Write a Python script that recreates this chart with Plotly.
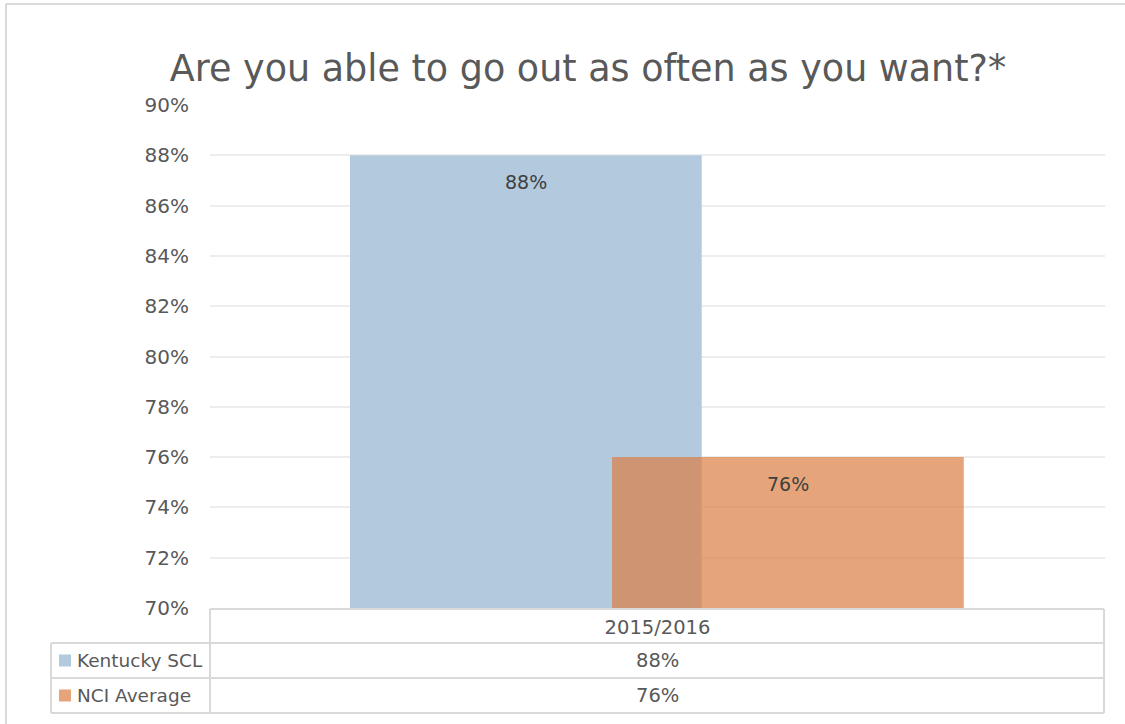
import plotly.graph_objects as go

# ---- data ----
categories = ["2015/2016"]
series_names = ["Kentucky SCL", "NCI Average"]
kentucky_scl = [88]
nci_average = [76]
y_tick_vals = [70, 72, 74, 76, 78, 80, 82, 84, 86, 88, 90]
y_tick_text = [f"{v}%" for v in y_tick_vals]
title_text = "Are you able to go out as often as you want?*"

# ---- style ----
W, H = 1125, 724
PL, PR, PT, PB = 210, 1105, 105, 608  # plot area in px
BLUE = "#B3C9DE"
ORANGE = "rgb(218,127,68)"
ORANGE_OPA = 0.71
LEGEND_ORANGE = "#E6A47B"
FONT = "DejaVu Sans"
TXT = "#595959"
LINE = "#D9D9D9"

bar_width = 0.393
offsets = [-0.3436, -0.0508]
colors = [BLUE, ORANGE]
opacities = [1.0, ORANGE_OPA]
values = [kentucky_scl, nci_average]


def px_x(p):
    return (p - PL) / (PR - PL)


def px_y(p):
    return (PB - p) / (PB - PT)


fig = go.Figure()
for name, vals, off, col, op in zip(series_names, values, offsets, colors, opacities):
    fig.add_trace(go.Bar(
        x=categories, y=vals, name=name, width=bar_width, offset=off,
        marker=dict(color=col, opacity=op, line=dict(width=0)),
        hoverinfo="skip",
    ))

annotations = []
# data labels inside bars near top
for vals, off in zip(values, offsets):
    for i, v in enumerate(vals):
        annotations.append(dict(
            x=i + off + bar_width / 2, y=v, xref="x", yref="y",
            text=f"{v}%", showarrow=False, yshift=-27,
            font=dict(family=FONT, size=19, color="#404040"),
        ))

# data table rows
row_tops = [643, 678]
legend_cols = [BLUE, LEGEND_ORANGE]
for name, vals, rt, lc in zip(series_names, values, row_tops, legend_cols):
    cy = rt + 17.5
    annotations.append(dict(
        x=px_x(75), y=px_y(cy), xref="paper", yref="paper",
        text=name, showarrow=False, xanchor="left", yanchor="middle",
        font=dict(family=FONT, size=18.5, color=TXT),
    ))
    annotations.append(dict(
        x=0.5, y=px_y(cy), xref="paper", yref="paper",
        text=f"{vals[0]}%", showarrow=False, xanchor="center", yanchor="middle",
        font=dict(family=FONT, size=19.5, color=TXT),
    ))

shapes = []


def hline(x0, x1, y):
    shapes.append(dict(type="line", xref="paper", yref="paper",
                       x0=px_x(x0), x1=px_x(x1), y0=px_y(y), y1=px_y(y),
                       line=dict(color=LINE, width=2)))


def vline(x, y0, y1):
    shapes.append(dict(type="line", xref="paper", yref="paper",
                       x0=px_x(x), x1=px_x(x), y0=px_y(y0), y1=px_y(y1),
                       line=dict(color=LINE, width=2)))


hline(PL, 1104, 609)
hline(51, 1104, 643)
hline(51, 1104, 678)
hline(51, 1104, 713)
vline(51, 643, 713)
vline(PL, 609, 713)
vline(1104, 609, 713)

# legend keys
for rt, lc in zip(row_tops, legend_cols):
    cy = rt + 17.5
    shapes.append(dict(type="rect", xref="paper", yref="paper",
                       x0=px_x(59), x1=px_x(71), y0=px_y(cy - 6), y1=px_y(cy + 6),
                       fillcolor=lc, line=dict(width=0)))

# outer chart border (only left and top edges visible in the frame)
hline(6, 1140, 4)
vline(6, 4, 740)

fig.update_layout(
    width=W, height=H,
    margin=dict(l=PL, r=W - PR, t=PT, b=H - PB),
    paper_bgcolor="white", plot_bgcolor="white",
    barmode="overlay",
    showlegend=False,
    hovermode=False,
    title=dict(text=title_text, x=588 / W, xanchor="center", xref="container",
               y=1 - 68 / H, yanchor="middle", yref="container",
               font=dict(family=FONT, size=36.5, color=TXT)),
    xaxis=dict(type="category", range=[-0.5, 0.5], showgrid=False, zeroline=False,
               showline=False, ticks="", ticklen=0, ticklabelstandoff=5,
               tickfont=dict(family=FONT, size=19.5, color=TXT)),
    yaxis=dict(range=[70, 90], tickvals=y_tick_vals, ticktext=y_tick_text,
               showgrid=True, gridcolor="#EDEDED", gridwidth=1.5, zeroline=False,
               showline=False, ticks="", ticklabelstandoff=20,
               tickfont=dict(family=FONT, size=20, color=TXT)),
    annotations=annotations,
    shapes=shapes,
    font=dict(family=FONT, color=TXT),
)

fig.write_html("out.html", config={"displayModeBar": False},
               post_script="document.body.style.margin='0';")
